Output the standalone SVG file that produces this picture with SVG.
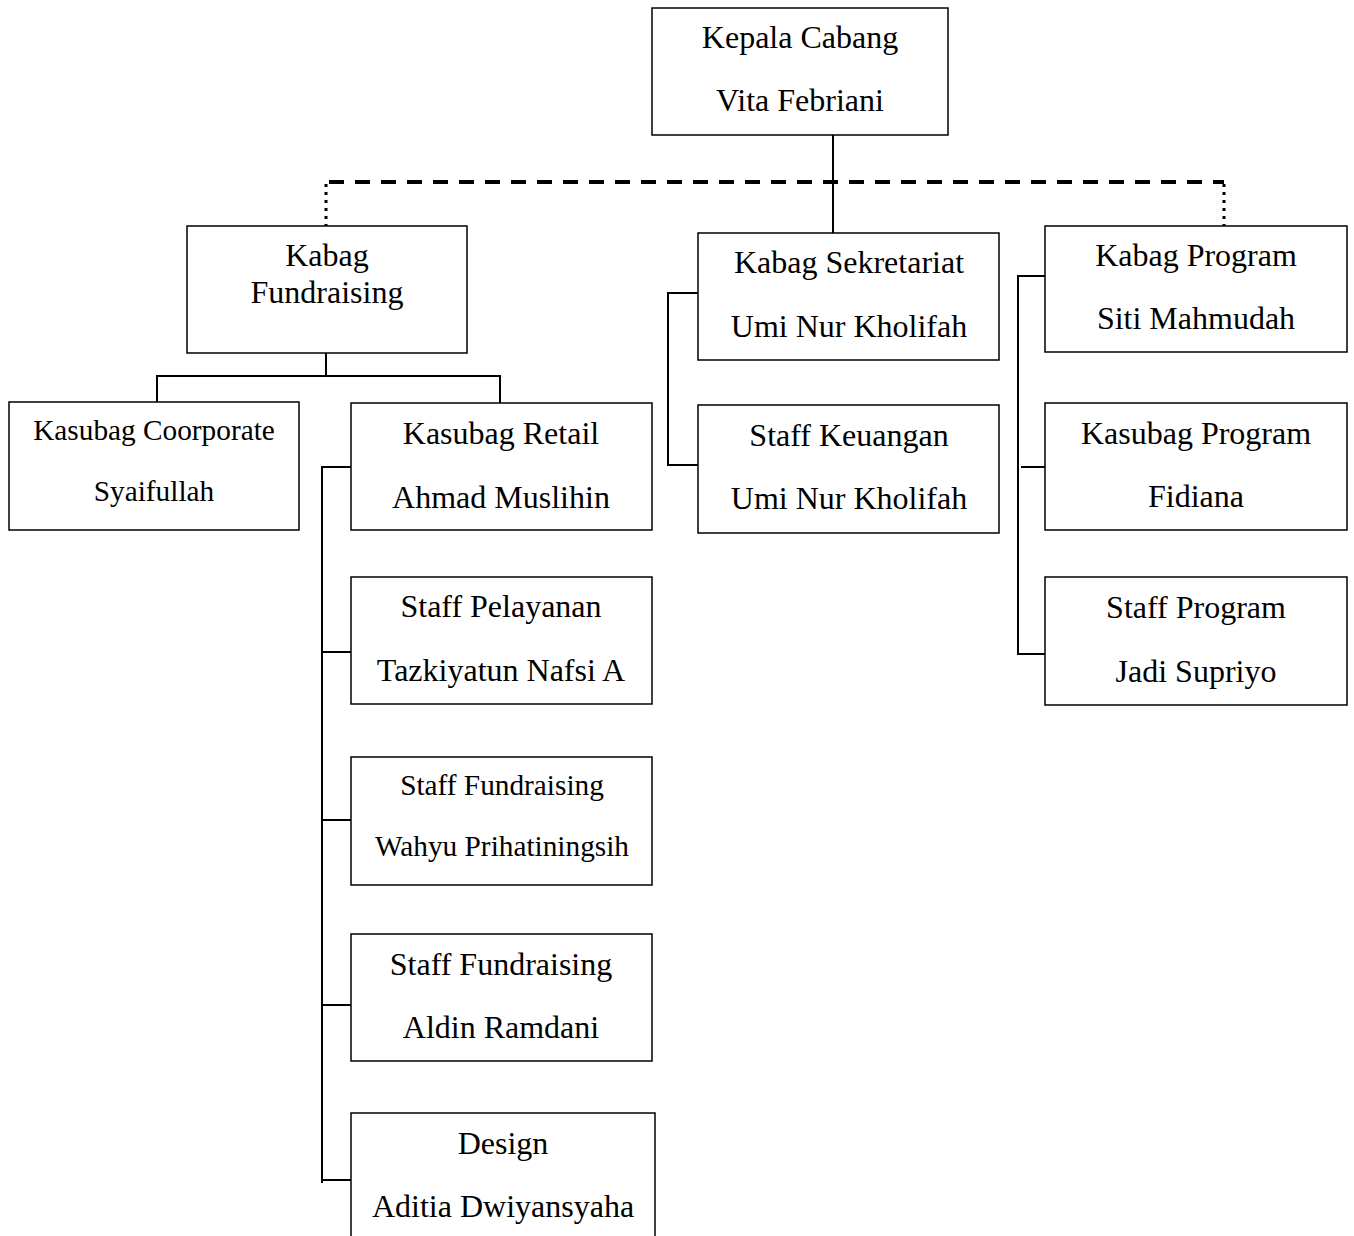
<svg xmlns="http://www.w3.org/2000/svg" width="1354" height="1236" viewBox="0 0 1354 1236">
<style>
.box{fill:#fff;stroke:#000;stroke-width:1.5}
text{font-family:"Liberation Serif","Times New Roman",serif;font-size:32px;fill:#000;text-anchor:middle;dominant-baseline:central}
.sm{font-size:29.3px}
.ln{fill:none;stroke:#000;stroke-width:2}
.dash{fill:none;stroke:#000;stroke-width:4;stroke-dasharray:15 11}
.dot{fill:none;stroke:#000;stroke-width:3;stroke-dasharray:3 5}
</style>
<rect width="1354" height="1236" fill="#fff"/>
<g id="connectors">
<path class="ln" d="M833 135V233"/>
<path class="dash" d="M329 182H1224"/>
<path class="dot" d="M326 184V226M1224 184V226"/>
<path class="ln" d="M326 353V376M157 402V376H500V403"/>
<path class="ln" d="M322 1183V467H351M322 652H351M322 820H351M322 1005H351M322 1180H351"/>
<path class="ln" d="M698 293H668V465H698"/>
<path class="ln" d="M1045 276H1018V654H1045M1021 467H1045"/>
</g>
<g id="kepala"><rect class="box" x="652" y="8" width="296" height="127"/><text x="800" y="37">Kepala Cabang</text><text x="800" y="100">Vita Febriani</text></g>
<g id="kabag-fundraising"><rect class="box" x="187" y="226" width="280" height="127"/><text x="327" y="255">Kabag</text><text x="327" y="292">Fundraising</text></g>
<g id="kabag-sekretariat"><rect class="box" x="698" y="233" width="301" height="127"/><text x="849" y="262">Kabag Sekretariat</text><text x="849" y="326">Umi Nur Kholifah</text></g>
<g id="kabag-program"><rect class="box" x="1045" y="226" width="302" height="126"/><text x="1196" y="255">Kabag Program</text><text x="1196" y="318">Siti Mahmudah</text></g>
<g id="kasubag-coorporate"><rect class="box" x="9" y="402" width="290" height="128"/><text class="sm" x="154" y="430">Kasubag Coorporate</text><text class="sm" x="154" y="491">Syaifullah</text></g>
<g id="kasubag-retail"><rect class="box" x="351" y="403" width="301" height="127"/><text x="501" y="433">Kasubag Retail</text><text x="501" y="497">Ahmad Muslihin</text></g>
<g id="staff-pelayanan"><rect class="box" x="351" y="577" width="301" height="127"/><text x="501" y="606">Staff Pelayanan</text><text x="501" y="670">Tazkiyatun Nafsi A</text></g>
<g id="staff-fundraising-1"><rect class="box" x="351" y="757" width="301" height="128"/><text class="sm" x="502" y="785">Staff Fundraising</text><text class="sm" x="502" y="846">Wahyu Prihatiningsih</text></g>
<g id="staff-fundraising-2"><rect class="box" x="351" y="934" width="301" height="127"/><text x="501" y="964">Staff Fundraising</text><text x="501" y="1027">Aldin Ramdani</text></g>
<g id="design"><rect class="box" x="351" y="1113" width="304" height="140"/><text x="503" y="1143">Design</text><text x="503" y="1206">Aditia Dwiyansyaha</text></g>
<g id="staff-keuangan"><rect class="box" x="698" y="405" width="301" height="128"/><text x="849" y="435">Staff Keuangan</text><text x="849" y="498">Umi Nur Kholifah</text></g>
<g id="kasubag-program"><rect class="box" x="1045" y="403" width="302" height="127"/><text x="1196" y="433">Kasubag Program</text><text x="1196" y="496">Fidiana</text></g>
<g id="staff-program"><rect class="box" x="1045" y="577" width="302" height="128"/><text x="1196" y="607">Staff Program</text><text x="1196" y="671">Jadi Supriyo</text></g>
</svg>
